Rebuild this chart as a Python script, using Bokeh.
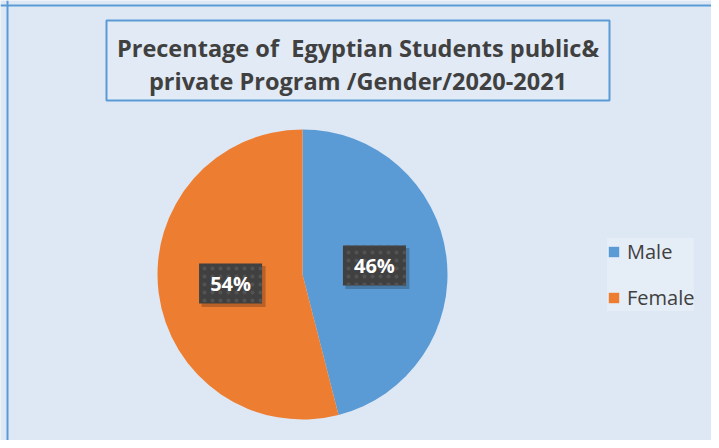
import numpy as np
from bokeh.plotting import figure
from bokeh.models import ColumnDataSource, Range1d, Span, Legend, LegendItem
from bokeh.transform import dodge
from bokeh.core.properties import value
from bokeh.embed import file_html
from bokeh.resources import INLINE

# ---- data ----
genders = ["Male", "Female"]
shares = [46, 54]
colors = ["#5B9BD5", "#ED7D31"]
title_lines = ["Precentage of\u00a0 Egyptian Students public&",
               "private Program /Gender/2020-2021"]

W, H = 711, 440
BG = "#DEE8F4"
FONT = "Open Sans"

p = figure(width=W, height=H, output_backend="svg", toolbar_location=None,
           x_range=Range1d(0, W), y_range=Range1d(0, H), min_border=0,
           background_fill_color=BG, border_fill_color=BG, outline_line_color=None)
p.axis.visible = False
p.grid.visible = False

# chart-area border (left and top)
p.add_layout(Span(location=7, dimension="height", line_color="#5B9BD5", line_width=2))
p.add_layout(Span(location=H - 5, dimension="width", line_color="#5B9BD5", line_width=2))

# ---- pie ----
cx, cy, r = 302, 166, 145
vals = np.array(shares, dtype=float)
frac = vals / vals.sum()
cum = np.concatenate([[0], np.cumsum(frac)])
# clockwise from 12 o'clock
start_cw = np.pi / 2 - cum[:-1] * 2 * np.pi
end_cw = np.pi / 2 - cum[1:] * 2 * np.pi
mid = (start_cw + end_cw) / 2
src = ColumnDataSource(dict(gender=genders, share=shares, color=colors,
                            start=end_cw, end=start_cw,
                            lx=cx + 0.5 * r * np.cos(mid),
                            ly=cy + 0.5 * r * np.sin(mid),
                            label=[f"{s}%" for s in shares]))
wedges = p.wedge(x=cx, y=cy, radius=r, start_angle="start", end_angle="end",
                 direction="anticlock", fill_color="color", line_color=None, source=src)

# data label boxes with shadow
p.rect(x=dodge("lx", 3), y=dodge("ly", -3), width=64, height=41, width_units="screen",
       height_units="screen", fill_color="#000000", fill_alpha=0.22, line_color=None, source=src)
p.rect(x="lx", y="ly", width=63, height=40, width_units="screen", height_units="screen",
       fill_color="#404040", line_color=None, hatch_pattern="dot", hatch_color="#525252",
       hatch_scale=8, hatch_weight=1.2, source=src)
p.text(x="lx", y="ly", text="label", text_color="white", text_font=value(FONT),
       text_font_style="bold", text_font_size="20px", text_align="center",
       text_baseline="middle", source=src)

# ---- title box ----
p.rect(x=357.5, y=380, width=503, height=80, fill_color="#E1EAF5", line_color="#5B9BD5",
       line_width=2)
tsrc = ColumnDataSource(dict(x=[357.5, 357.5], y=[393, 360], t=title_lines))
p.text(x="x", y="y", text="t", text_color="#404040", text_font=value(FONT),
       text_font_style="bold", text_font_size="23.5px", text_align="center",
       text_baseline="middle", source=tsrc)

# ---- legend ----
legend = Legend(items=[LegendItem(label=g, renderers=[wedges], index=i) for i, g in enumerate(genders)],
                location=(607, 129), margin=0, padding=13, spacing=19, label_height=22,
                glyph_height=13, glyph_width=13, label_standoff=7,
                label_text_font=FONT, label_text_font_size="20px", label_text_color="#404040",
                background_fill_color="#E5EDF7", background_fill_alpha=1.0,
                border_line_color=None)
p.add_layout(legend, "center")

open("out.html", "w").write(file_html(p, INLINE))
